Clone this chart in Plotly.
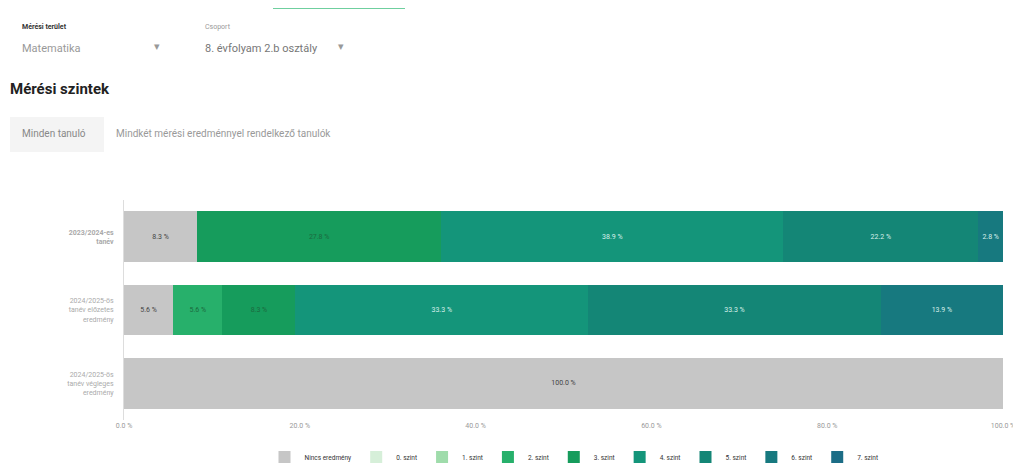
import plotly.graph_objects as go

categories = [
    "2023/2024-es tanév",
    "2024/2025-ös tanév előzetes eredmény",
    "2024/2025-ös tanév végleges eredmény",
]
tick_text = [
    "<b>2023/2024-es<br>tanév</b>",
    "2024/2025-ös<br>tanév előzetes<br>eredmény",
    "2024/2025-ös<br>tanév végleges<br>eredmény",
]
series_names = ["Nincs eredmény", "0. szint", "1. szint", "2. szint", "3. szint",
                "4. szint", "5. szint", "6. szint", "7. szint"]
nincs = [8.3, 5.6, 100.0]
szint0 = [0, 0, 0]
szint1 = [0, 0, 0]
szint2 = [0, 5.6, 0]
szint3 = [27.8, 8.3, 0]
szint4 = [38.9, 33.3, 0]
szint5 = [22.2, 33.3, 0]
szint6 = [2.8, 13.9, 0]
szint7 = [0, 0, 0]
series_values = [nincs, szint0, szint1, szint2, szint3, szint4, szint5, szint6, szint7]
x_ticks = [0, 20, 40, 60, 80, 100]
x_tick_labels = ["0.0 %", "20.0 %", "40.0 %", "60.0 %", "80.0 %", "100.0 %"]

colors = ["#c6c6c6", "#d6efd9", "#9fdcab", "#27b06b", "#169c5c",
          "#14957a", "#148676", "#17797f", "#1c6d86"]
text_colors = ["#444444", "#2a6a44", "#2a6a44", "#1b6a3e", "#1b6a3e",
               "#d8f0ea", "#d8f0ea", "#d8f0ea", "#d8f0ea"]

OFF = 8  # page body margin
W, H = 1021 - OFF, 468 - OFF
L, T = 124 - OFF, 200 - OFF
R = W - (1003 - OFF)
B = H - (420 - OFF)
PW, PH = W - L - R, H - T - B


def px(x):
    return (x - OFF - L) / PW


def py(y):
    return (H - B - (y - OFF)) / PH


fig = go.Figure()
for name, vals, col, tc in zip(series_names, series_values, colors, text_colors):
    texts = [f"{v:.1f} %" if v > 0 else "" for v in vals]
    fig.add_trace(go.Bar(
        y=categories, x=vals, name=name, orientation="h",
        marker=dict(color=col, line=dict(width=0)),
        text=texts, texttemplate="%{text}", textposition="inside",
        insidetextanchor="middle", textangle=0,
        textfont=dict(size=7, color=tc, family="Roboto"),
        hoverinfo="skip",
    ))

fig.update_layout(
    width=W, height=H,
    margin=dict(l=L, r=R, t=T, b=B, autoexpand=False),
    barmode="stack", bargap=0.31,
    plot_bgcolor="white", paper_bgcolor="white",
    font=dict(family="Roboto", color="#555555"),
    xaxis=dict(range=[0, 100], tickvals=x_ticks, ticktext=x_tick_labels,
               showgrid=False, zeroline=False, showline=False, automargin=False,
               tickfont=dict(size=7, color="#999999"), ticks=""),
    yaxis=dict(categoryorder="array", categoryarray=categories[::-1],
               tickvals=categories, ticktext=tick_text, automargin=False,
               showgrid=False, showline=True, linecolor="#dddddd", linewidth=1,
               tickfont=dict(size=7, color="#aaaaaa"), ticks="", ticklabelstandoff=8),
    legend=dict(orientation="h", xref="container", yref="container",
                x=(574 - OFF) / W, xanchor="center", y=1 - (457 - OFF) / H, yanchor="middle",
                font=dict(size=6.5, color="#333333"), traceorder="normal",
                itemwidth=30, tracegroupgap=0),
    showlegend=True,
)

ann = [
    (20, 27, "<b>Mérési terület</b>", 7, "#333333"),
    (20, 48, "Matematika", 11, "#999999"),
    (152, 46, "▾", 11, "#999999"),
    (203, 27, "Csoport", 7, "#999999"),
    (203, 48, "8. évfolyam 2.b osztály", 11, "#777777"),
    (336, 46, "▾", 11, "#999999"),
    (8, 89, "<b>Mérési szintek</b>", 15, "#222222"),
    (20, 134, "Minden tanuló", 10, "#888888"),
    (114, 134, "Mindkét mérési eredménnyel rendelkező tanulók", 10, "#999999"),
]
for x, y, t, s, c in ann:
    fig.add_annotation(x=px(x), y=py(y), xref="paper", yref="paper", text=t,
                       showarrow=False, xanchor="left", yanchor="middle",
                       font=dict(size=s, color=c, family="Roboto"))

fig.add_shape(type="rect", xref="paper", yref="paper",
              x0=px(10), x1=px(104), y0=py(152), y1=py(117),
              fillcolor="#f4f4f4", line=dict(width=0), layer="below")
fig.add_shape(type="line", xref="paper", yref="paper",
              x0=px(273), x1=px(405), y0=py(8), y1=py(8),
              line=dict(color="#6fcf9f", width=2))

fig.write_html("out.html")
